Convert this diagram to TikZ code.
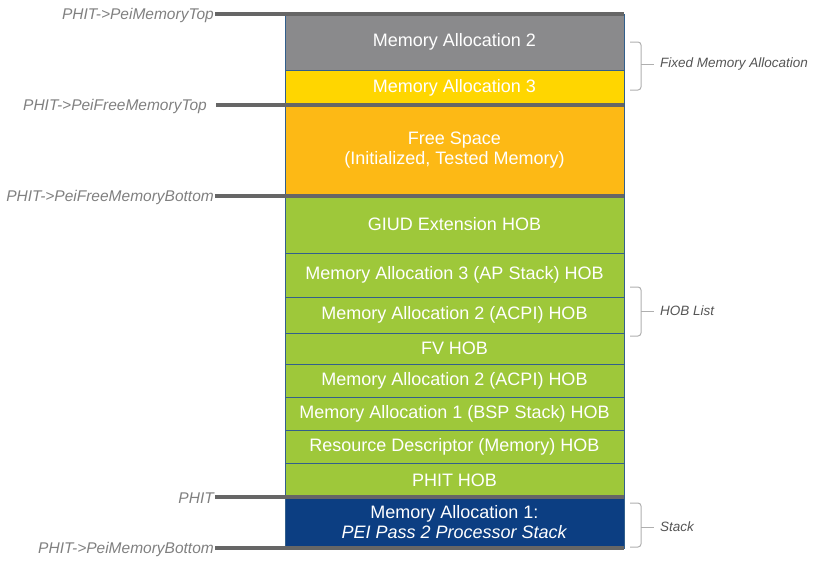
\documentclass[tikz,border=0pt]{standalone}
\usepackage{fontspec}
\setmainfont{Liberation Sans}
\usetikzlibrary{positioning}

\definecolor{memgray}{RGB}{138,138,140}
\definecolor{memyellow}{RGB}{255,214,0}
\definecolor{freeorange}{RGB}{253,185,21}
\definecolor{hobgreen}{RGB}{158,200,58}
\definecolor{stackblue}{RGB}{12,62,130}
\definecolor{sepgray}{RGB}{102,102,102}
\definecolor{rowline}{RGB}{50,95,140}
\definecolor{ptrgray}{RGB}{128,128,128}
\definecolor{bracegray}{RGB}{175,175,175}
\definecolor{bracetext}{RGB}{85,85,85}

\tikzset{
  memrow/.style={draw=rowline, line width=0.9pt, minimum width=339pt, inner sep=0pt,
    outer sep=0pt, text=white, align=center, font=\fontsize{18}{20}\selectfont},
  ptrlabel/.style={anchor=east, inner sep=1pt, yshift=-1.5pt, text=ptrgray,
    font=\fontsize{15.5}{18}\selectfont\itshape},
  sepline/.style={draw=sepgray, line width=3.5pt},
  bracket/.style={draw=bracegray, line width=1pt, rounded corners=3pt},
  bracelabel/.style={anchor=west, inner sep=0pt, text=bracetext,
    font=\fontsize{13.5}{15}\selectfont\itshape}
}

\begin{document}
\begin{tikzpicture}[x=1pt, y=-1pt]
    \useasboundingbox (0,0) rectangle (824,565);

    % Bloques de memoria, de arriba hacia abajo
    \node[memrow, fill=memgray, minimum height=56pt, anchor=north] (ma2) at (454.5,14) {Memory Allocation 2};
    \node[memrow, fill=memyellow, minimum height=35pt, below=0pt of ma2] (ma3) {Memory Allocation 3};
    \node[memrow, fill=freeorange, minimum height=91pt, below=0pt of ma3] (free) {Free Space\\(Initialized, Tested Memory)};
    \node[memrow, fill=hobgreen, minimum height=57pt, below=0pt of free] (guid) {GIUD Extension HOB};
    \node[memrow, fill=hobgreen, minimum height=44pt, below=0pt of guid] (apstack) {Memory Allocation 3 (AP Stack) HOB};
    \node[memrow, fill=hobgreen, minimum height=36pt, below=0pt of apstack] (acpia) {Memory Allocation 2 (ACPI) HOB};
    \node[memrow, fill=hobgreen, minimum height=31pt, below=0pt of acpia] (fv) {FV HOB};
    \node[memrow, fill=hobgreen, minimum height=33pt, below=0pt of fv] (acpib) {Memory Allocation 2 (ACPI) HOB};
    \node[memrow, fill=hobgreen, minimum height=33pt, below=0pt of acpib] (bsp) {Memory Allocation 1 (BSP Stack) HOB};
    \node[memrow, fill=hobgreen, minimum height=33pt, below=0pt of bsp] (resdesc) {Resource Descriptor (Memory) HOB};
    \node[memrow, fill=hobgreen, minimum height=34pt, below=0pt of resdesc] (phithob) {PHIT HOB};
    \node[memrow, fill=stackblue, minimum height=51pt, below=0pt of phithob] (stack) {Memory Allocation 1:\\\textit{PEI Pass 2 Processor Stack}};

    % Punteros de la PHIT
    \node[ptrlabel] (memtop) at (215,14) {PHIT->PeiMemoryTop};
    \node[ptrlabel] (freetop) at (208,105) {PHIT->PeiFreeMemoryTop};
    \node[ptrlabel] (freebot) at (215,196) {PHIT->PeiFreeMemoryBottom};
    \node[ptrlabel] (phit) at (215,497) {PHIT};
    \node[ptrlabel] (membot) at (215,548) {PHIT->PeiMemoryBottom};

    \draw[sepline] (memtop.east |- ma2.north east) -- (ma2.north east);
    \draw[sepline, shorten <=8pt] (freetop.east |- ma3.south east) -- (ma3.south east);
    \draw[sepline] (freebot.east |- free.south east) -- (free.south east);
    \draw[sepline] (phit.east |- phithob.south east) -- (phithob.south east);
    \draw[sepline] (membot.east |- stack.south east) -- (stack.south east);

    % Llaves de la derecha
    \draw[bracket] (630,42) -- (641,42) -- (641,90) -- (630,90);
    \draw[bracket] (630,287) -- (641,287) -- (641,336) -- (630,336);
    \draw[bracket] (630,503) -- (641,503) -- (641,547) -- (630,547);

    \node[bracelabel] (fixedlbl) at (660,64) {Fixed Memory Allocation};
    \node[bracelabel] (hoblbl) at (660,311) {HOB List};
    \node[bracelabel] (stacklbl) at (660,527) {Stack};

    \coordinate (fixedtip) at (641,64);
    \coordinate (hobtip) at (641,311);
    \coordinate (stacktip) at (641,527);
    \draw[bracket, shorten >=6pt] (fixedtip) -- (fixedlbl.west);
    \draw[bracket, shorten >=6pt] (hobtip) -- (hoblbl.west);
    \draw[bracket, shorten >=6pt] (stacktip) -- (stacklbl.west);
\end{tikzpicture}
\end{document}
